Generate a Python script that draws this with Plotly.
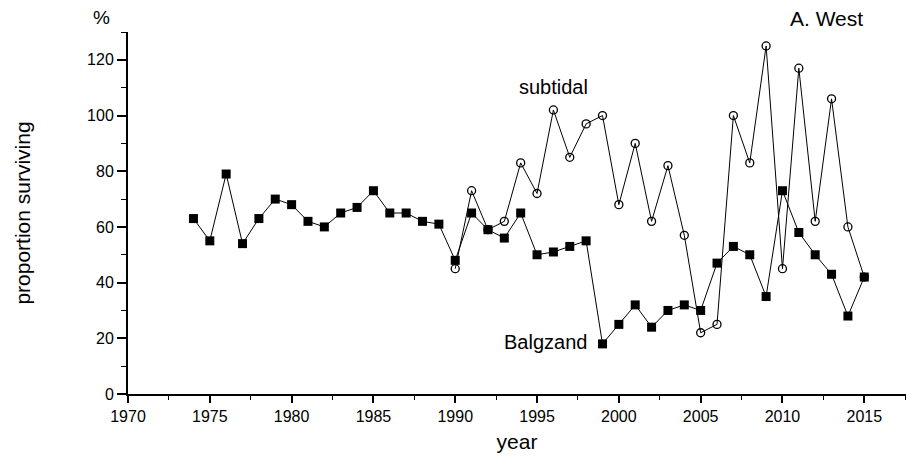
import plotly.graph_objects as go

years_balgzand = list(range(1974, 2016))
balgzand = [63, 55, 79, 54, 63, 70, 68, 62, 60, 65, 67, 73, 65, 65, 62, 61,
            48, 65, 59, 56, 65, 50, 51, 53, 55, 18, 25, 32, 24, 30, 32, 30,
            47, 53, 50, 35, 73, 58, 50, 43, 28, 42]

years_subtidal = list(range(1990, 2016))
subtidal = [45, 73, 59, 62, 83, 72, 102, 85, 97, 100, 68, 90, 62, 82, 57, 22,
            25, 100, 83, 125, 45, 117, 62, 106, 60, 42]

x_ticks = list(range(1970, 2016, 5))
y_ticks = list(range(0, 121, 20))

FONT = "Liberation Sans, Arial, sans-serif"
W, H = 906, 466
L, R, T, B = 128, 0, 32, 72
PW, PH = W - L - R, H - T - B


def px_to_paper(px, py):
    return (px - L) / PW, (H - B - py) / PH


fig = go.Figure()
fig.add_trace(go.Scatter(
    x=years_subtidal, y=subtidal, mode="lines+markers", name="subtidal",
    line=dict(color="black", width=1),
    marker=dict(symbol="circle-open", size=8, color="black", line=dict(width=1.3)),
))
fig.add_trace(go.Scatter(
    x=years_balgzand, y=balgzand, mode="lines+markers", name="Balgzand",
    line=dict(color="black", width=1),
    marker=dict(symbol="square", size=9, color="black"),
))

pct_x, pct_y = px_to_paper(101, 18)
aw_x, aw_y = px_to_paper(826, 19)

fig.update_layout(
    width=W, height=H,
    margin=dict(l=L, r=R, t=T, b=B),
    paper_bgcolor="white", plot_bgcolor="white",
    showlegend=False,
    font=dict(family=FONT, color="black", size=16),
    xaxis=dict(
        range=[1970, 2017.55], tickvals=x_ticks, ticks="outside", ticklen=7,
        tickwidth=1.5, tickcolor="black", showline=True, linecolor="black", linewidth=2,
        showgrid=False, zeroline=False,
        minor=dict(dtick=2.5, tick0=1970, ticks="outside", ticklen=4, tickwidth=1.2,
                   tickcolor="black", showgrid=False),
        tickfont=dict(size=16),
        title=dict(text="year", font=dict(size=21), standoff=10),
    ),
    yaxis=dict(
        range=[0, 130], tickvals=y_ticks, ticks="outside", ticklen=9,
        tickwidth=1.5, tickcolor="black", showline=True, linecolor="black", linewidth=2,
        showgrid=False, zeroline=False, ticksuffix="\u2002",
        minor=dict(dtick=10, tick0=0, ticks="outside", ticklen=5, tickwidth=1.2,
                   tickcolor="black", showgrid=False),
        tickfont=dict(size=16),
        title=dict(text="proportion surviving", font=dict(size=21), standoff=51),
    ),
    annotations=[
        dict(text="%", x=pct_x, y=pct_y, xref="paper", yref="paper",
             xanchor="center", yanchor="middle", showarrow=False, font=dict(size=19)),
        dict(text="A. West", x=aw_x, y=aw_y, xref="paper", yref="paper",
             xanchor="center", yanchor="middle", showarrow=False, font=dict(size=21)),
        dict(text="subtidal", x=1996.0, y=110.4, xref="x", yref="y",
             xanchor="center", yanchor="middle", showarrow=False, font=dict(size=20)),
        dict(text="Balgzand", x=1998.2, y=18.6, xref="x", yref="y",
             xanchor="right", yanchor="middle", showarrow=False, font=dict(size=20)),
    ],
)

fig.write_html("out.html")
